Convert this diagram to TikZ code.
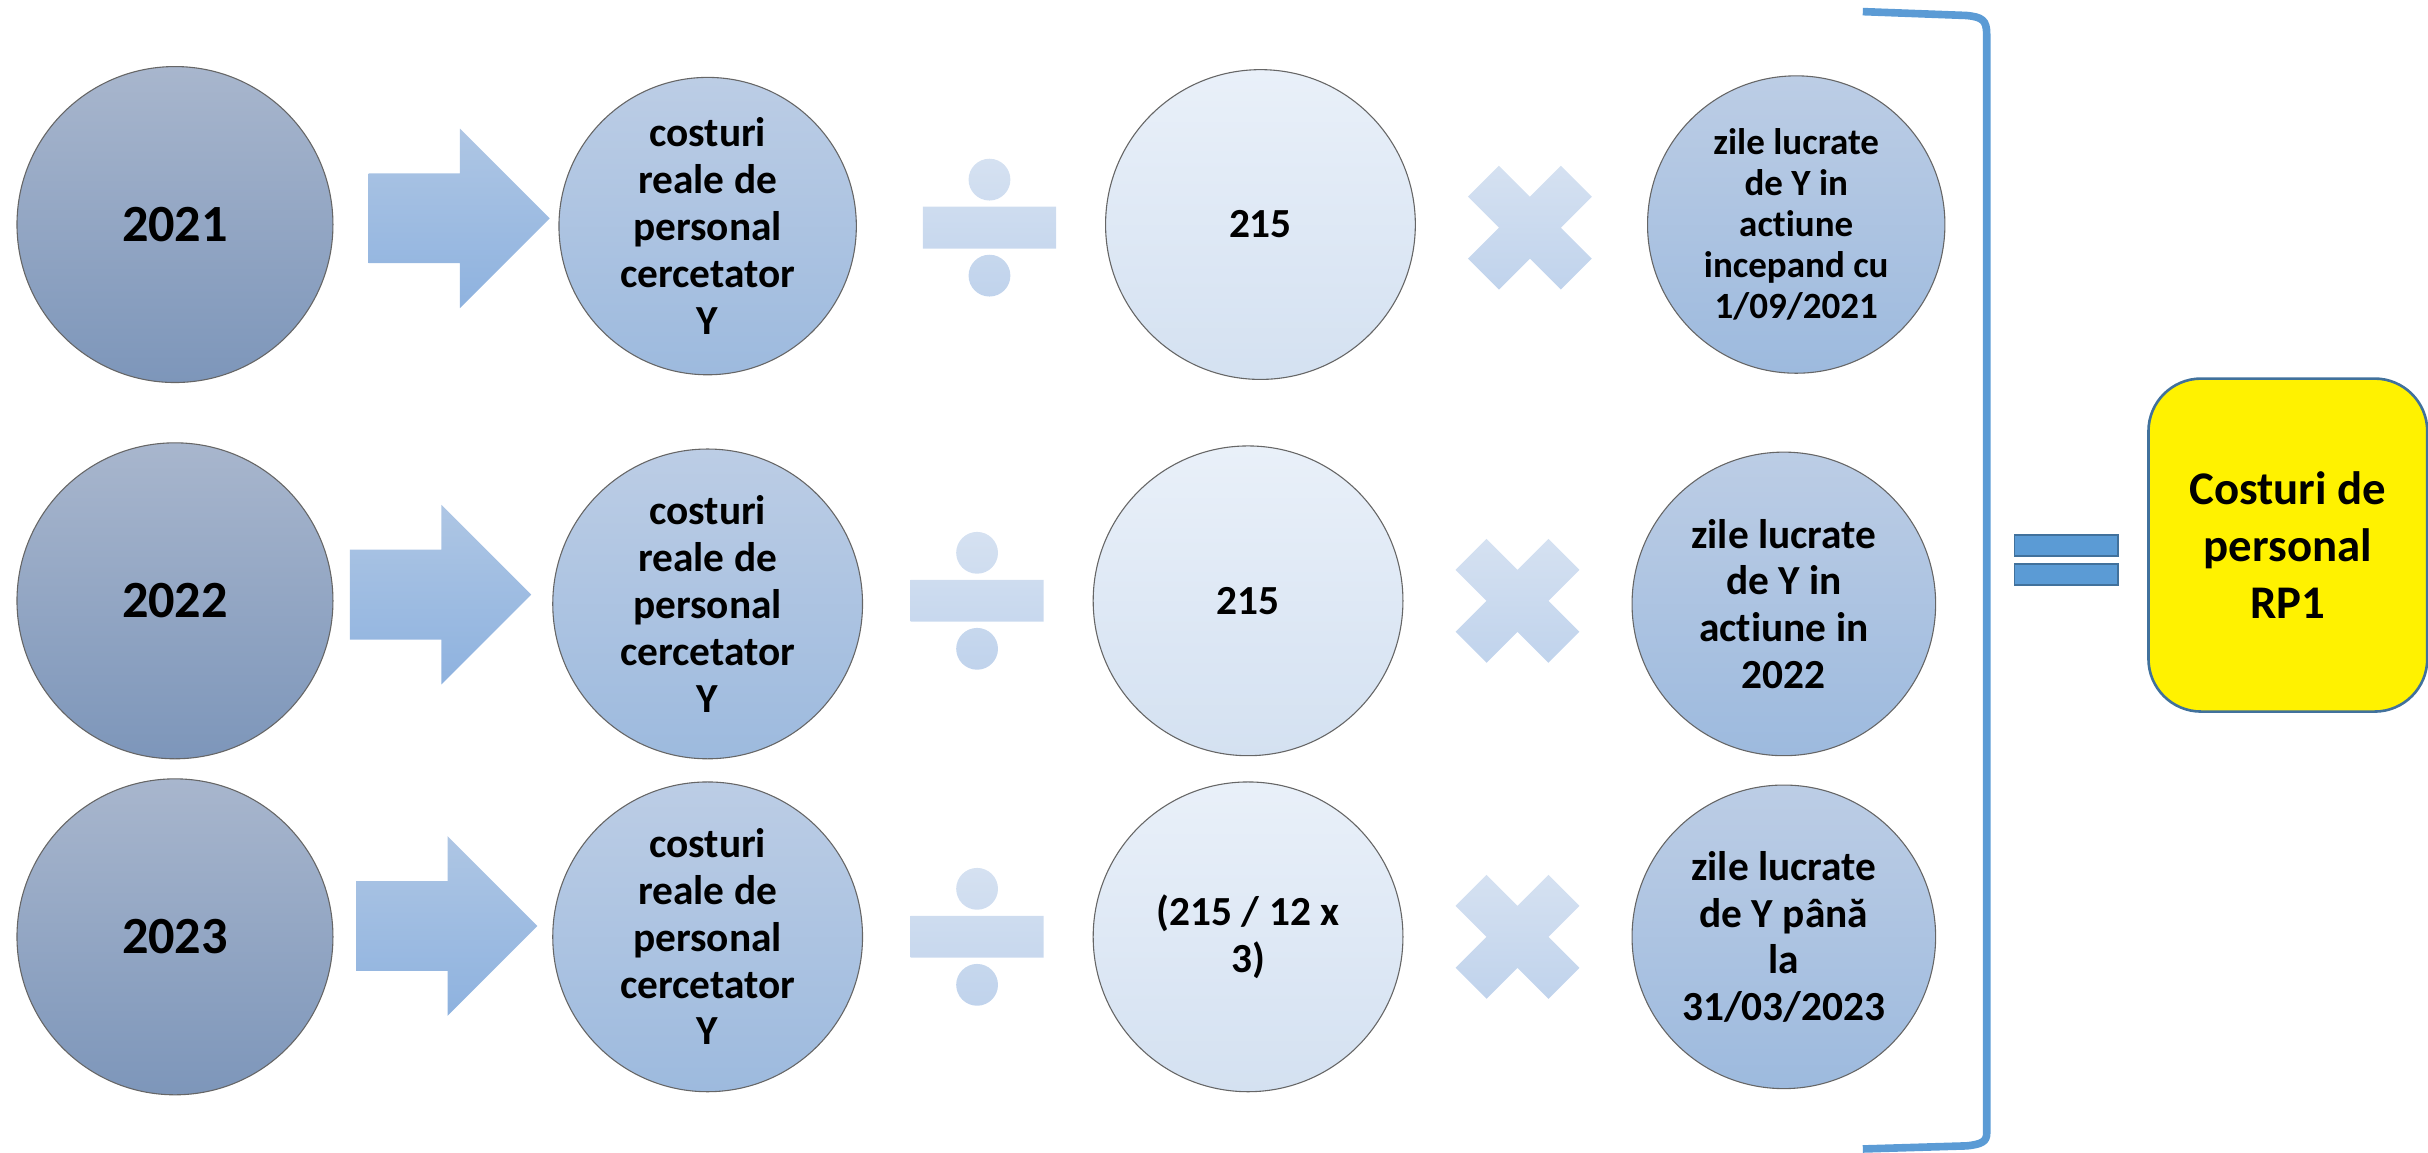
\documentclass[tikz,border=0pt]{standalone}
\usepackage{fontspec}
\setmainfont{Carlito}[Ligatures=NoCommon]
\usetikzlibrary{positioning}

\definecolor{yeartop}{RGB}{168,182,205}
\definecolor{yearbot}{RGB}{125,150,186}
\definecolor{costtop}{RGB}{188,205,229}
\definecolor{costbot}{RGB}{157,186,222}
\definecolor{numtop}{RGB}{233,240,249}
\definecolor{numbot}{RGB}{212,225,241}
\definecolor{arrtop}{RGB}{174,198,228}
\definecolor{arrbot}{RGB}{142,178,223}
\definecolor{signtop}{RGB}{213,225,241}
\definecolor{signbot}{RGB}{192,211,236}
\definecolor{brackblue}{RGB}{91,155,213}
\definecolor{edgeblue}{RGB}{65,113,156}

\tikzset{
  ball/.style={circle, draw=black!60, line width=0.5pt, align=center, inner sep=0pt,
    font=\bfseries\fontsize{19}{21.5}\selectfont},
  yearball/.style={ball, minimum size=5.1cm, top color=yeartop, bottom color=yearbot,
    font=\bfseries\fontsize{24}{28}\selectfont},
  costball/.style={ball, minimum size=5cm, top color=costtop, bottom color=costbot},
  numball/.style={ball, minimum size=5cm, top color=numtop, bottom color=numbot},
  pics/bigarrow/.style={code={
    \shade[top color=arrtop, bottom color=arrbot]
      (-59,-29) -- (0,-29) -- (0,-58) -- (58,0) -- (0,58) -- (0,29) -- (-59,29) -- cycle;}},
  pics/divsign/.style={code={
    \shade[top color=signtop, bottom color=signbot]
      (-43,-13.5) rectangle (43,13.5) (0,-31) circle (13.5) (0,31) circle (13.5);}},
  pics/timessign/.style={code={
    \shade[top color=signtop, bottom color=signbot]
      (-20,-40) -- (0,-20) -- (20,-40) -- (40,-20) -- (20,0) -- (40,20) -- (20,40)
      -- (0,20) -- (-20,40) -- (-40,20) -- (-20,0) -- (-40,-20) -- cycle;}},
}

\begin{document}
\begin{tikzpicture}[x=0.025cm, y=-0.025cm]
  \useasboundingbox (0,0) rectangle (1568,744);

  % 2021
  \node [yearball] (Y1) at (113,145) {2021};
  \pic at (297,141) {bigarrow};
  \node [costball, minimum size=4.8cm] (C1) at (457,146) {costuri\\reale de\\personal\\cercetator\\Y};
  \pic at (639,147) {divsign};
  \node [numball] (N1) at (814,145) {215};
  \pic at (988,147) {timessign};
  \node [costball, minimum size=4.8cm, font=\bfseries\fontsize{17}{18.8}\selectfont] (Z1) at (1160,145)
    {zile lucrate\\de Y in\\actiune\\incepand cu\\1/09/2021};

  % 2022
  \node [yearball] (Y2) at (113,388) {2022};
  \pic at (285,384) {bigarrow};
  \node [costball] (C2) at (457,390) {costuri\\reale de\\personal\\cercetator\\Y};
  \pic at (631,388) {divsign};
  \node [numball] (N2) at (806,388) {215};
  \pic at (980,388) {timessign};
  \node [costball, minimum size=4.9cm] (Z2) at (1152,390) {zile lucrate\\de Y in\\actiune in\\2022};

  % 2023
  \node [yearball] (Y3) at (113,605) {2023};
  \pic at (289,598) {bigarrow};
  \node [costball] (C3) at (457,605) {costuri\\reale de\\personal\\cercetator\\Y};
  \pic at (631,605) {divsign};
  \node [numball] (N3) at (806,605) {(215 / 12 x\\3)};
  \pic at (980,605) {timessign};
  \node [costball, minimum size=4.9cm] (Z3) at (1152,605) {zile lucrate\\de Y până\\la\\31/03/2023};

  % bracket and result
  \draw [brackblue, line width=3.5pt]
    (1203,7.5) -- (1270,10) .. controls (1280,11) and (1283,13) .. (1283,22)
    -- (1283,732) .. controls (1283,737) and (1280,739) .. (1270,740) -- (1203,742);
  \draw [fill=brackblue, draw=edgeblue, line width=0.8pt]
    (1301,345.5) rectangle (1368,359) (1301,364) rectangle (1368,378);
  \node [draw=edgeblue, line width=1.2pt, fill=yellow, rounded corners=0.85cm,
    minimum width=4.5cm, minimum height=5.375cm, align=center,
    font=\bfseries\fontsize{21.5}{26}\selectfont] (R) at (1477.5,352) {Costuri de\\personal\\RP1};
\end{tikzpicture}
\end{document}
